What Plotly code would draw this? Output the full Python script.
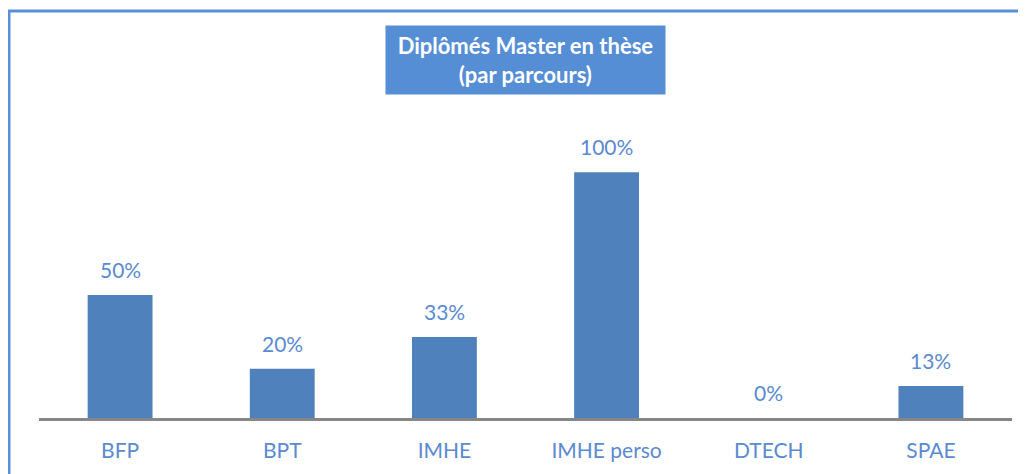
import plotly.graph_objects as go

categories = ["BFP", "BPT", "IMHE", "IMHE perso", "DTECH", "SPAE"]
values = [0.50, 0.20, 0.33, 1.00, 0.0, 0.13]
labels = ["50%", "20%", "33%", "100%", "0%", "13%"]

BAR = "#4F81BD"
TXT = "#5A8AD0"
BORDER = "#5B8FD9"

OFF = 8  # page body margin
W, H = 1026, 474
L, R = 39 - OFF, 1026 - 1012 + OFF
T, B = 123 - OFF, 474 - 418 + OFF
pw = W - L - R
ph = H - T - B

def px(x):
    return (x - OFF - L) / pw

def py(y):
    return (H - B - (y - OFF)) / ph

fig = go.Figure(go.Bar(
    x=categories, y=values,
    marker=dict(color=BAR, line=dict(width=0)),
    cliponaxis=False,
))

for c, v, t in zip(categories, values, labels):
    fig.add_annotation(x=c, y=v, text=t, showarrow=False,
                       xanchor="center", yanchor="bottom", yshift=11,
                       font=dict(color=TXT, size=21, family="Lato"))

fig.update_layout(
    width=W, height=H,
    margin=dict(l=L, r=R, t=T, b=B),
    plot_bgcolor="white", paper_bgcolor="white",
    bargap=0.6, showlegend=False,
    font=dict(family="Lato", color=TXT),
)
fig.update_xaxes(showline=True, linecolor="#878787", linewidth=2.5,
                 tickfont=dict(size=21, color=TXT, family="Lato"),
                 ticks="", ticklabelstandoff=12, showgrid=False)
fig.update_yaxes(range=[0, 1.2], visible=False, showgrid=False)

fig.add_annotation(
    text="<b>Diplômés Master en thèse<br>(par parcours)</b>",
    xref="paper", yref="paper", x=px(525), y=py(60.5),
    xanchor="center", yanchor="middle", showarrow=False,
    width=277, height=66, bgcolor="#558ED5",
    font=dict(color="white", size=22, family="Lato"),
)
fig.add_shape(type="line", xref="paper", yref="paper",
              x0=px(9), x1=px(9), y0=py(11), y1=py(490),
              line=dict(color=BORDER, width=3))
fig.add_shape(type="line", xref="paper", yref="paper",
              x0=px(7.5), x1=px(1040), y0=py(11), y1=py(11),
              line=dict(color=BORDER, width=3))

fig.write_html("out.html")
